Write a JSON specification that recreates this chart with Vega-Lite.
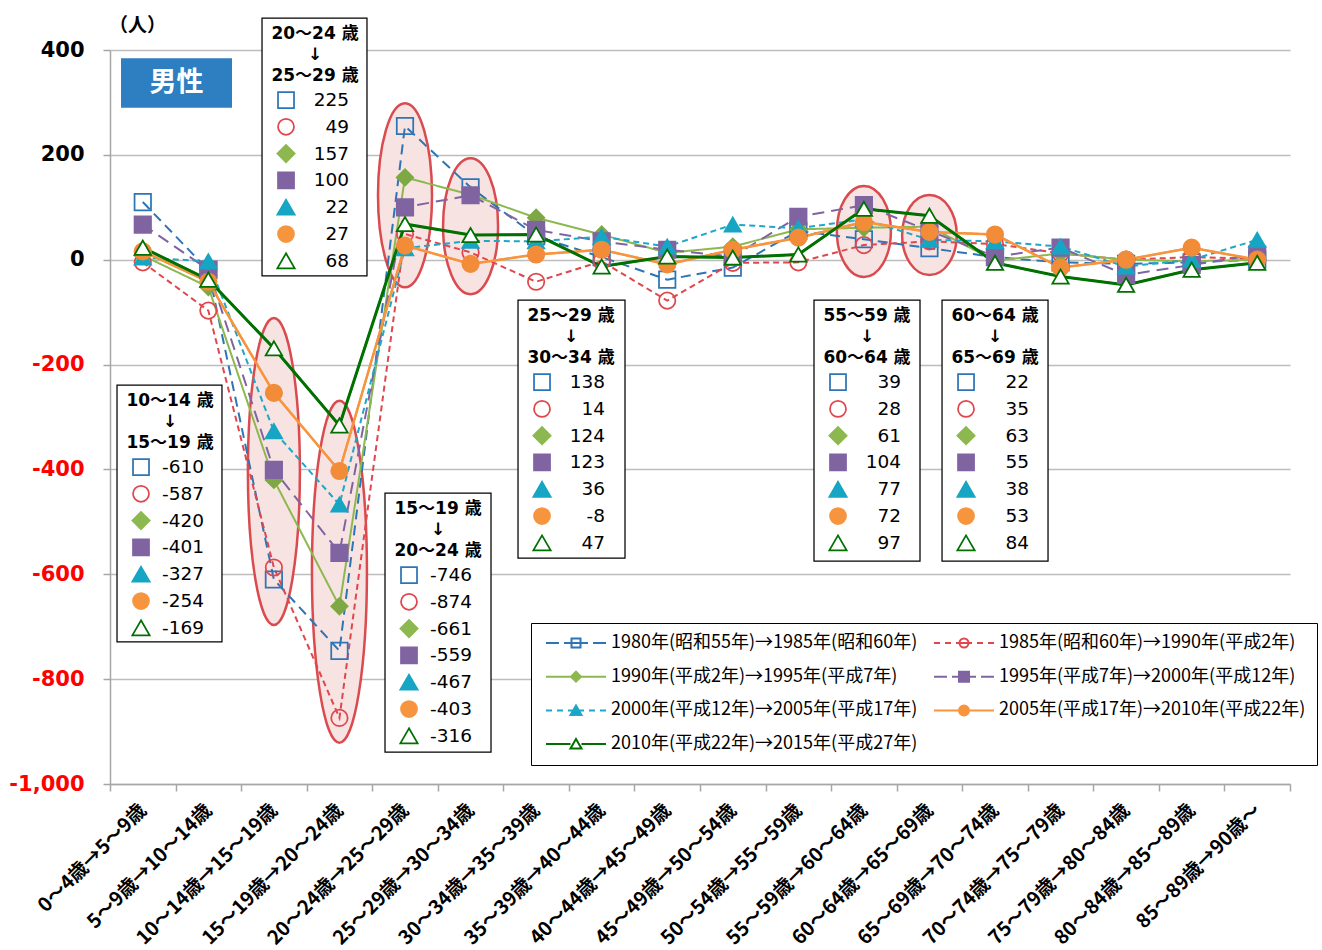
{
  "$schema": "https://vega.github.io/schema/vega-lite/v6.json",
  "width": 1180,
  "height": 734,
  "autosize": {"type": "none"},
  "padding": {"left": 110, "top": 50, "right": 32, "bottom": 166},
  "background": "white",
  "config": {
    "view": {"stroke": null},
    "font": "Noto Sans CJK JP",
    "legend": {
      "strokeColor": "#000000",
      "strokeWidth": 1,
      "fillColor": "white",
      "padding": 11,
      "symbolSize": 100,
      "symbolStrokeWidth": 2,
      "symbolOpacity": 1,
      "labelOffset": 51,
      "labelFont": "Noto Sans CJK JP",
      "labelFontSize": 18,
      "labelColor": "#000000",
      "labelLimit": 0,
      "rowPadding": 15.7,
      "columnPadding": 12
    }
  },
  "datasets": {
    "main": [
      {"s":"A","i":0,"v":110},{"s":"A","i":1,"v":-20},{"s":"A","i":2,"v":-610},{"s":"A","i":3,"v":-746},{"s":"A","i":4,"v":255},{"s":"A","i":5,"v":138},{"s":"A","i":6,"v":45},{"s":"A","i":7,"v":5},{"s":"A","i":8,"v":-38},{"s":"A","i":9,"v":-15},{"s":"A","i":10,"v":55},{"s":"A","i":11,"v":39},{"s":"A","i":12,"v":22},{"s":"A","i":13,"v":5},{"s":"A","i":14,"v":-5},{"s":"A","i":15,"v":-8},{"s":"A","i":16,"v":-5},{"s":"A","i":17,"v":0},
      {"s":"B","i":0,"v":-5},{"s":"B","i":1,"v":-97},{"s":"B","i":2,"v":-587},{"s":"B","i":3,"v":-874},{"s":"B","i":4,"v":49},{"s":"B","i":5,"v":14},{"s":"B","i":6,"v":-42},{"s":"B","i":7,"v":-3},{"s":"B","i":8,"v":-78},{"s":"B","i":9,"v":-6},{"s":"B","i":10,"v":-5},{"s":"B","i":11,"v":28},{"s":"B","i":12,"v":35},{"s":"B","i":13,"v":30},{"s":"B","i":14,"v":12},{"s":"B","i":15,"v":0},{"s":"B","i":16,"v":5},{"s":"B","i":17,"v":2},
      {"s":"C","i":0,"v":8},{"s":"C","i":1,"v":-52},{"s":"C","i":2,"v":-420},{"s":"C","i":3,"v":-661},{"s":"C","i":4,"v":157},{"s":"C","i":5,"v":124},{"s":"C","i":6,"v":80},{"s":"C","i":7,"v":48},{"s":"C","i":8,"v":13},{"s":"C","i":9,"v":25},{"s":"C","i":10,"v":58},{"s":"C","i":11,"v":61},{"s":"C","i":12,"v":63},{"s":"C","i":13,"v":-2},{"s":"C","i":14,"v":12},{"s":"C","i":15,"v":0},{"s":"C","i":16,"v":-3},{"s":"C","i":17,"v":0},
      {"s":"D","i":0,"v":67},{"s":"D","i":1,"v":-19},{"s":"D","i":2,"v":-401},{"s":"D","i":3,"v":-559},{"s":"D","i":4,"v":100},{"s":"D","i":5,"v":123},{"s":"D","i":6,"v":57},{"s":"D","i":7,"v":35},{"s":"D","i":8,"v":19},{"s":"D","i":9,"v":6},{"s":"D","i":10,"v":82},{"s":"D","i":11,"v":104},{"s":"D","i":12,"v":55},{"s":"D","i":13,"v":6},{"s":"D","i":14,"v":23},{"s":"D","i":15,"v":-29},{"s":"D","i":16,"v":-10},{"s":"D","i":17,"v":10},
      {"s":"E","i":0,"v":4},{"s":"E","i":1,"v":-3},{"s":"E","i":2,"v":-327},{"s":"E","i":3,"v":-467},{"s":"E","i":4,"v":22},{"s":"E","i":5,"v":36},{"s":"E","i":6,"v":35},{"s":"E","i":7,"v":44},{"s":"E","i":8,"v":25},{"s":"E","i":9,"v":67},{"s":"E","i":10,"v":60},{"s":"E","i":11,"v":77},{"s":"E","i":12,"v":38},{"s":"E","i":13,"v":35},{"s":"E","i":14,"v":25},{"s":"E","i":15,"v":-13},{"s":"E","i":16,"v":0},{"s":"E","i":17,"v":38},
      {"s":"F","i":0,"v":16},{"s":"F","i":1,"v":-42},{"s":"F","i":2,"v":-254},{"s":"F","i":3,"v":-403},{"s":"F","i":4,"v":27},{"s":"F","i":5,"v":-8},{"s":"F","i":6,"v":10},{"s":"F","i":7,"v":19},{"s":"F","i":8,"v":-9},{"s":"F","i":9,"v":19},{"s":"F","i":10,"v":42},{"s":"F","i":11,"v":72},{"s":"F","i":12,"v":53},{"s":"F","i":13,"v":48},{"s":"F","i":14,"v":-15},{"s":"F","i":15,"v":0},{"s":"F","i":16,"v":23},{"s":"F","i":17,"v":0},
      {"s":"G","i":0,"v":23},{"s":"G","i":1,"v":-38},{"s":"G","i":2,"v":-169},{"s":"G","i":3,"v":-316},{"s":"G","i":4,"v":68},{"s":"G","i":5,"v":47},{"s":"G","i":6,"v":48},{"s":"G","i":7,"v":-13},{"s":"G","i":8,"v":6},{"s":"G","i":9,"v":4},{"s":"G","i":10,"v":10},{"s":"G","i":11,"v":97},{"s":"G","i":12,"v":84},{"s":"G","i":13,"v":-6},{"s":"G","i":14,"v":-32},{"s":"G","i":15,"v":-48},{"s":"G","i":16,"v":-19},{"s":"G","i":17,"v":-6}
    ],
    "ellipses": [
      {"e":"e1","i":2,"v":-404},
      {"e":"e2","i":3,"v":-595},
      {"e":"e3","i":4,"v":123},
      {"e":"e4","i":5,"v":64},
      {"e":"e5","i":11,"v":54},
      {"e":"e6","i":12,"v":47}
    ],
    "boxes": [
      {"i":-0.393,"i2":1.208,"v":-239,"v2":-729,"title":"10～14 歳\n↓\n15～19 歳","vals":"-610\n-587\n-420\n-401\n-327\n-254\n-169"},
      {"i":1.819,"i2":3.420,"v":461,"v2":-31,"title":"20～24 歳\n↓\n25～29 歳","vals":"225\n49\n157\n100\n22\n27\n68"},
      {"i":3.695,"i2":5.312,"v":-445,"v2":-939,"title":"15～19 歳\n↓\n20～24 歳","vals":"-746\n-874\n-661\n-559\n-467\n-403\n-316"},
      {"i":5.724,"i2":7.356,"v":-77,"v2":-569,"title":"25～29 歳\n↓\n30～34 歳","vals":"138\n14\n124\n123\n36\n-8\n47"},
      {"i":10.239,"i2":11.856,"v":-77,"v2":-575,"title":"55～59 歳\n↓\n60～64 歳","vals":"39\n28\n61\n104\n77\n72\n97"},
      {"i":12.192,"i2":13.809,"v":-77,"v2":-575,"title":"60～64 歳\n↓\n65～69 歳","vals":"22\n35\n63\n55\n38\n53\n84"}
    ],
    "tagbox": [
      {"i":-0.332,"i2":1.361,"v":384.2,"v2":290}
    ],
    "tagtext": [
      {"i":0.514,"v":337,"t":"男性"}
    ]
  },
  "encoding": {
    "x": {"field": "i", "type": "quantitative", "scale": {"domain": [-0.5, 17.5], "nice": false, "zero": false},
      "axis": {
        "values": [-0.5,0,0.5,1,1.5,2,2.5,3,3.5,4,4.5,5,5.5,6,6.5,7,7.5,8,8.5,9,9.5,10,10.5,11,11.5,12,12.5,13,13.5,14,14.5,15,15.5,16,16.5,17,17.5],
        "title": null, "grid": false,
        "domainColor": "#A6A6A6", "domainWidth": 1.5,
        "tickColor": "#A6A6A6", "tickWidth": 1.5, "tickSize": 7,
        "tickOpacity": {"condition": {"test": "datum.value % 1 != 0", "value": 1}, "value": 0},
        "labelAngle": -45, "labelAlign": "right", "labelBaseline": "middle",
        "labelFont": "Noto Sans CJK JP", "labelFontWeight": "bold", "labelFontSize": 19.5, "labelColor": "#000000",
        "labelPadding": 16, "labelOverlap": false, "labelBound": false, "labelFlush": false, "labelLimit": 0,
        "labelExpr": "datum.value % 1 == 0 ? ['0～4歳→5～9歳','5～9歳→10～14歳','10～14歳→15～19歳','15～19歳→20～24歳','20～24歳→25～29歳','25～29歳→30～34歳','30～34歳→35～39歳','35～39歳→40～44歳','40～44歳→45～49歳','45～49歳→50～54歳','50～54歳→55～59歳','55～59歳→60～64歳','60～64歳→65～69歳','65～69歳→70～74歳','70～74歳→75～79歳','75～79歳→80～84歳','80～84歳→85～89歳','85～89歳→90歳～'][datum.value] : ''"
      }},
    "y": {"field": "v", "type": "quantitative", "scale": {"domain": [-1000, 400], "nice": false, "zero": false},
      "axis": {
        "values": [-1000,-800,-600,-400,-200,0,200,400],
        "grid": true, "gridColor": "#BDBDBD", "gridWidth": 1.5,
        "domainColor": "#A6A6A6", "domainWidth": 1.5,
        "tickColor": "#A6A6A6", "tickWidth": 1.5, "tickSize": 7,
        "labelFont": "DejaVu Sans", "labelFontWeight": "bold", "labelFontSize": 21, "labelPadding": 19,
        "labelColor": {"condition": {"test": "datum.value < 0", "value": "#FF0000"}, "value": "#000000"},
        "labelExpr": "(datum.value < 0 ? '-' : '') + format(abs(datum.value), ',')",
        "title": "（人）", "titleAngle": 0, "titleX": 27, "titleY": -25, "titleAlign": "center", "titleBaseline": "middle",
        "titleFont": "Noto Sans CJK JP", "titleFontSize": 19, "titleFontWeight": "bold", "titleColor": "#000000"
      }}
  },
  "resolve": {"scale": {"shape": "independent", "fill": "independent", "stroke": "independent", "strokeDash": "independent"}},
  "layer": [
    {
      "data": {"name": "ellipses"},
      "mark": {"type": "point", "size": 4, "filled": true, "fill": "#F8E3E3", "stroke": "#DA4B4F", "strokeWidth": 2.5, "opacity": 1},
      "encoding": {
        "shape": {"field": "e", "type": "nominal", "legend": null, "scale": {"domain": ["e1","e2","e3","e4","e5","e6"], "range": [
          "M0 -153.5A26 153.5 0 1 1 0 153.5A26 153.5 0 1 1 0 -153.5Z",
          "M0 -171A27.5 171 0 1 1 0 171A27.5 171 0 1 1 0 -171Z",
          "M0 -92A27 92 0 1 1 0 92A27 92 0 1 1 0 -92Z",
          "M0 -68A27.5 68 0 1 1 0 68A27.5 68 0 1 1 0 -68Z",
          "M0 -45.5A27 45.5 0 1 1 0 45.5A27 45.5 0 1 1 0 -45.5Z",
          "M0 -40A27.3 40 0 1 1 0 40A27.3 40 0 1 1 0 -40Z"
        ]}}
      }
    },
    {
      "data": {"name": "main"},
      "mark": {"type": "line", "strokeWidth": 2},
      "encoding": {
        "stroke": {"field": "s", "type": "nominal", "legend": null, "scale": {"domain": ["A","B","C","D","E","F","G"], "range": ["#2E75B6","#E0474C","#8DB84F","#8064A2","#1CA8C6","#F7953E","#007000"]}},
        "strokeDash": {"field": "s", "type": "nominal", "legend": null, "scale": {"domain": ["A","B","C","D","E","F","G"], "range": [[10,6],[6,4],[1,0],[12,7],[6,4],[1,0],[1,0]]}}
      }
    },
    {
      "data": {"name": "main"},
      "transform": [{"filter": "datum.s == 'F'"}],
      "mark": {"type": "line", "strokeWidth": 2.5, "stroke": "#F7953E"}
    },
    {
      "data": {"name": "main"},
      "transform": [{"filter": "datum.s == 'G'"}],
      "mark": {"type": "line", "strokeWidth": 3, "stroke": "#007000"}
    },
    {
      "data": {"name": "main"},
      "mark": {"type": "point", "size": 270, "strokeWidth": 1.75, "opacity": 1},
      "encoding": {
        "shape": {"field": "s", "type": "nominal", "legend": null, "scale": {"domain": ["A","B","C","D","E","F","G"], "range": ["square","circle","diamond","square","triangle-up","circle","triangle-up"]}},
        "fill": {"field": "s", "type": "nominal", "legend": null, "scale": {"domain": ["A","B","C","D","E","F","G"], "range": ["transparent","transparent","#7EA843","#8064A2","#17A5C4","#F28C38","#FFFFFF"]}},
        "stroke": {"field": "s", "type": "nominal", "legend": null, "scale": {"domain": ["A","B","C","D","E","F","G"], "range": ["#2E75B6","#E0474C","#7EA843","#8064A2","#17A5C4","#F28C38","#007000"]}}
      }
    },
    {
      "data": {"name": "boxes"},
      "mark": {"type": "rect", "fill": "#FFFFFF", "stroke": "#000000", "strokeWidth": 1.25},
      "encoding": {
        "x2": {"field": "i2"},
        "y2": {"field": "v2"}
      }
    },
    {
      "data": {"name": "boxes"},
      "mark": {"type": "text", "align": "center", "baseline": "middle", "dx": 53, "dy": 16, "lineBreak": "\n", "lineHeight": 21, "font": "DejaVu Sans, Noto Sans CJK JP", "fontWeight": "bold", "fontSize": 17, "color": "#000000"},
      "encoding": {
        "text": {"field": "title", "type": "nominal"}
      }
    },
    {
      "data": {"name": "boxes"},
      "mark": {"type": "text", "align": "right", "baseline": "middle", "dx": 87, "dy": 82, "lineBreak": "\n", "lineHeight": 26.8, "font": "DejaVu Sans", "fontSize": 18.5, "color": "#000000"},
      "encoding": {
        "text": {"field": "vals", "type": "nominal"}
      }
    },
    {
      "data": {"name": "boxes"},
      "mark": {"type": "point", "shape": "square", "size": 256, "fill": "transparent", "stroke": "#2E75B6", "strokeWidth": 1.75, "opacity": 1, "xOffset": 24, "yOffset": 82}
    },
    {
      "data": {"name": "boxes"},
      "mark": {"type": "point", "shape": "circle", "size": 256, "fill": "transparent", "stroke": "#E0474C", "strokeWidth": 1.75, "opacity": 1, "xOffset": 24, "yOffset": 108.8}
    },
    {
      "data": {"name": "boxes"},
      "mark": {"type": "point", "shape": "diamond", "size": 300, "filled": true, "fill": "#8DB84F", "stroke": "#8DB84F", "strokeWidth": 1.75, "opacity": 1, "xOffset": 24, "yOffset": 135.6}
    },
    {
      "data": {"name": "boxes"},
      "mark": {"type": "point", "shape": "square", "size": 256, "filled": true, "fill": "#8064A2", "stroke": "#8064A2", "strokeWidth": 1.75, "opacity": 1, "xOffset": 24, "yOffset": 162.4}
    },
    {
      "data": {"name": "boxes"},
      "mark": {"type": "point", "shape": "triangle-up", "size": 300, "filled": true, "fill": "#17A5C4", "stroke": "#17A5C4", "strokeWidth": 1.75, "opacity": 1, "xOffset": 24, "yOffset": 189.2}
    },
    {
      "data": {"name": "boxes"},
      "mark": {"type": "point", "shape": "circle", "size": 256, "filled": true, "fill": "#F7953E", "stroke": "#F7953E", "strokeWidth": 1.75, "opacity": 1, "xOffset": 24, "yOffset": 216}
    },
    {
      "data": {"name": "boxes"},
      "mark": {"type": "point", "shape": "triangle-up", "size": 300, "fill": "#FFFFFF", "stroke": "#007000", "strokeWidth": 1.75, "opacity": 1, "xOffset": 24, "yOffset": 242.8}
    },
    {
      "data": {"name": "tagbox"},
      "mark": {"type": "rect", "fill": "#2E7EC2"},
      "encoding": {
        "x2": {"field": "i2"},
        "y2": {"field": "v2"}
      }
    },
    {
      "data": {"name": "tagtext"},
      "mark": {"type": "text", "align": "center", "baseline": "middle", "font": "Noto Sans CJK JP", "fontWeight": "bold", "fontSize": 27, "color": "#FFFFFF"},
      "encoding": {
        "text": {"field": "t", "type": "nominal"}
      }
    },
    {
      "data": {"name": "main"},
      "transform": [{"filter": "datum.i < 0"}],
      "mark": {"type": "point", "opacity": 1, "strokeWidth": 2},
      "encoding": {
        "shape": {"field": "s", "type": "nominal",
          "scale": {"domain": ["A","B","C","D","E","F","G"], "range": [
            "M-1,0H1.6M2.6,0H7.4M8.4,0H11M4.1,-0.9H5.9V0.9H4.1Z",
            "M-1,0H0.2M1.2,0H2.4M3.4,0H6.6M7.6,0H8.8M9.8,0H11M5.9,0A0.9,0.9 0 1 1 4.1,0A0.9,0.9 0 1 1 5.9,0Z",
            "M-1,0H11M5,-1L6,0L5,1L4,0Z",
            "M-1,0H1.6M2.6,0H7.4M8.4,0H11M4,-1H6V1H4Z",
            "M-1,0H0.2M1.2,0H2.4M3.4,0H6.6M7.6,0H8.8M9.8,0H11M5,-1L6.1,0.9H3.9Z",
            "M-1,0H11M6,0A1,1 0 1 1 4,0A1,1 0 1 1 6,0Z",
            "M-1,0H3.9M6.1,0H11M5,-1L6.1,0.9H3.9Z"
          ]},
          "legend": {"orient": "none", "legendX": 421, "legendY": 573, "columns": 2, "direction": "horizontal", "title": null,
            "labelExpr": "['1980年(昭和55年)→1985年(昭和60年)','1985年(昭和60年)→1990年(平成2年)','1990年(平成2年)→1995年(平成7年)','1995年(平成7年)→2000年(平成12年)','2000年(平成12年)→2005年(平成17年)','2005年(平成17年)→2010年(平成22年)','2010年(平成22年)→2015年(平成27年)'][indexof(['A','B','C','D','E','F','G'], datum.label)]"}},
        "fill": {"field": "s", "type": "nominal",
          "scale": {"domain": ["A","B","C","D","E","F","G"], "range": ["transparent","transparent","#8DB84F","#8064A2","#17A5C4","#F7953E","#FFFFFF"]},
          "legend": {"orient": "none", "legendX": 421, "legendY": 573, "columns": 2, "direction": "horizontal", "title": null,
            "labelExpr": "['1980年(昭和55年)→1985年(昭和60年)','1985年(昭和60年)→1990年(平成2年)','1990年(平成2年)→1995年(平成7年)','1995年(平成7年)→2000年(平成12年)','2000年(平成12年)→2005年(平成17年)','2005年(平成17年)→2010年(平成22年)','2010年(平成22年)→2015年(平成27年)'][indexof(['A','B','C','D','E','F','G'], datum.label)]"}},
        "stroke": {"field": "s", "type": "nominal",
          "scale": {"domain": ["A","B","C","D","E","F","G"], "range": ["#2E75B6","#E0474C","#8DB84F","#8064A2","#1CA8C6","#F7953E","#007000"]},
          "legend": {"orient": "none", "legendX": 421, "legendY": 573, "columns": 2, "direction": "horizontal", "title": null,
            "labelExpr": "['1980年(昭和55年)→1985年(昭和60年)','1985年(昭和60年)→1990年(平成2年)','1990年(平成2年)→1995年(平成7年)','1995年(平成7年)→2000年(平成12年)','2000年(平成12年)→2005年(平成17年)','2005年(平成17年)→2010年(平成22年)','2010年(平成22年)→2015年(平成27年)'][indexof(['A','B','C','D','E','F','G'], datum.label)]"}}
      }
    }
  ]
}
